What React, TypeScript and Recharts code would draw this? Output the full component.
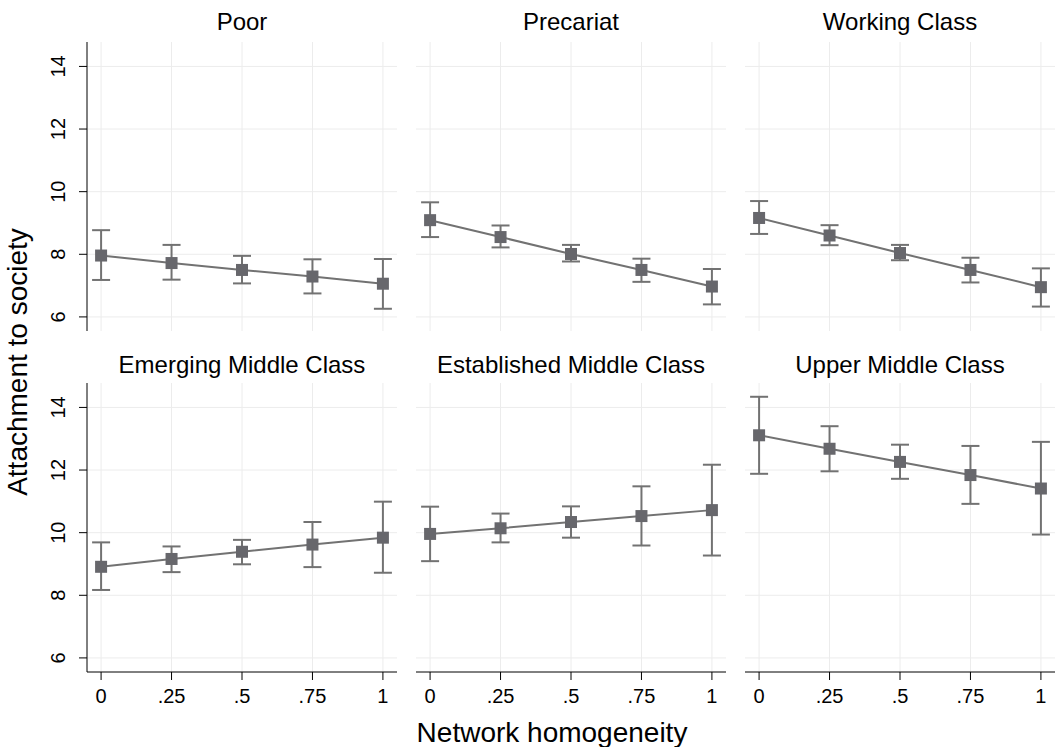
// App.tsx — 2x3 small-multiple panels: attachment to society by network homogeneity
import { ComposedChart, Line, XAxis, YAxis, ReferenceLine, ErrorBar } from "recharts";

const X_VALUES = [0, 0.25, 0.5, 0.75, 1];
const X_TICK_LABELS = ["0", ".25", ".5", ".75", "1"];
const Y_TICKS = [6, 8, 10, 12, 14];

const PANEL_TITLES = [
  "Poor",
  "Precariat",
  "Working Class",
  "Emerging Middle Class",
  "Established Middle Class",
  "Upper Middle Class",
];

// point estimates and 95% CI bounds
const poorMean = [7.96, 7.72, 7.5, 7.29, 7.06];
const poorLow = [7.18, 7.19, 7.07, 6.75, 6.26];
const poorHigh = [8.77, 8.3, 7.95, 7.84, 7.85];

const precariatMean = [9.09, 8.55, 8.01, 7.5, 6.97];
const precariatLow = [8.55, 8.22, 7.77, 7.12, 6.4];
const precariatHigh = [9.66, 8.92, 8.3, 7.86, 7.53];

const workingMean = [9.16, 8.6, 8.04, 7.5, 6.95];
const workingLow = [8.65, 8.29, 7.81, 7.1, 6.33];
const workingHigh = [9.7, 8.93, 8.3, 7.89, 7.55];

const emergingMean = [8.91, 9.16, 9.39, 9.62, 9.84];
const emergingLow = [8.17, 8.74, 8.99, 8.9, 8.72];
const emergingHigh = [9.69, 9.56, 9.77, 10.34, 10.99];

const establishedMean = [9.96, 10.14, 10.34, 10.53, 10.72];
const establishedLow = [9.09, 9.69, 9.84, 9.59, 9.27];
const establishedHigh = [10.83, 10.61, 10.84, 11.48, 12.17];

const upperMean = [13.11, 12.68, 12.26, 11.84, 11.41];
const upperLow = [11.88, 11.96, 11.72, 10.92, 9.94];
const upperHigh = [14.34, 13.4, 12.81, 12.77, 12.9];

const SERIES = [
  [poorMean, poorLow, poorHigh],
  [precariatMean, precariatLow, precariatHigh],
  [workingMean, workingLow, workingHigh],
  [emergingMean, emergingLow, emergingHigh],
  [establishedMean, establishedLow, establishedHigh],
  [upperMean, upperLow, upperHigh],
];

const FONT = "'Liberation Sans', Arial, sans-serif";
const MARK = "#67676c";
const LINE = "#727272";
const GRID = "#ececec";

// layout of the plot areas
const PLOT_W = 310;
const PLOT_H = 289;
const COL_LEFT = [87, 416, 745];
const ROW_TOP = [42, 383];
const Y_AXIS_W = 47;
const X_AXIS_H = 40;

// rotated y tick label (reads bottom → top)
function YTick({ x, y, payload }: { x?: number; y?: number; payload?: { value: number } }) {
  return (
    <text
      x={x}
      y={y}
      transform={`rotate(-90 ${x} ${y})`}
      textAnchor="middle"
      fontSize={20}
      fontFamily={FONT}
      fill="#000"
    >
      {payload?.value}
    </text>
  );
}

// square marker
function SquareDot(props: { cx?: number; cy?: number; index?: number }) {
  const { cx = 0, cy = 0, index } = props;
  return <rect key={index} x={cx - 6} y={cy - 6} width={12} height={12} fill={MARK} />;
}

function Panel({ idx }: { idx: number }) {
  const row = Math.floor(idx / 3);
  const col = idx % 3;
  const showY = col === 0;
  const showX = row === 1;
  const [mean, low, high] = SERIES[idx];
  const data = X_VALUES.map((x, i) => ({
    x,
    y: mean[i],
    err: [mean[i] - low[i], high[i] - mean[i]],
  }));

  const width = PLOT_W + (showY ? Y_AXIS_W : 0);
  const height = PLOT_H + (showX ? X_AXIS_H : 0);
  const left = COL_LEFT[col] - (showY ? Y_AXIS_W : 0);

  return (
    <div style={{ position: "absolute", left, top: ROW_TOP[row] }}>
      <ComposedChart width={width} height={height} data={data} margin={{ top: 0, right: 0, bottom: 0, left: 0 }}>
        <XAxis
          type="number"
          dataKey="x"
          domain={[-0.05, 1.05]}
          allowDataOverflow
          ticks={X_VALUES}
          tickFormatter={(v: number) => X_TICK_LABELS[X_VALUES.indexOf(v)]}
          hide={!showX}
          height={X_AXIS_H}
          axisLine={{ stroke: "#000", strokeWidth: 1 }}
          tickLine={{ stroke: "#000" }}
          tickSize={8}
          tickMargin={9}
          tick={{ fill: "#000", fontSize: 20, fontFamily: FONT }}
          interval={0}
        />
        <YAxis
          type="number"
          domain={[5.55, 14.78]}
          allowDataOverflow
          ticks={Y_TICKS}
          hide={!showY}
          width={Y_AXIS_W}
          axisLine={{ stroke: "#000", strokeWidth: 1 }}
          tickLine={{ stroke: "#000" }}
          tickSize={8}
          tickMargin={14}
          tick={<YTick />}
          interval={0}
        />
        {/* light grid only at the tick values */}
        {X_VALUES.map(v => (
          <ReferenceLine key={`vx${v}`} x={v} stroke={GRID} strokeWidth={1} />
        ))}
        {Y_TICKS.map(v => (
          <ReferenceLine key={`hy${v}`} y={v} stroke={GRID} strokeWidth={1} />
        ))}
        <Line
          type="linear"
          dataKey="y"
          stroke={LINE}
          strokeWidth={2}
          dot={<SquareDot />}
          activeDot={false}
          isAnimationActive={false}
        >
          <ErrorBar dataKey="err" direction="y" width={9} stroke={LINE} strokeWidth={2} />
        </Line>
      </ComposedChart>
    </div>
  );
}

export default function App() {
  return (
    <div style={{ position: "absolute", left: 0, top: 0, width: 1056, height: 747, background: "#fff", overflow: "hidden" }}>
      {PANEL_TITLES.map((_, i) => (
        <Panel key={i} idx={i} />
      ))}
      {/* titles and axis labels */}
      <svg width={1056} height={747} style={{ position: "absolute", left: 0, top: 0, pointerEvents: "none" }}>
        {PANEL_TITLES.map((t, i) => (
          <text
            key={t}
            x={COL_LEFT[i % 3] + PLOT_W / 2}
            y={i < 3 ? 30 : 373}
            textAnchor="middle"
            fontSize={24}
            fontFamily={FONT}
            fill="#000"
          >
            {t}
          </text>
        ))}
        <text
          x={27}
          y={362}
          transform="rotate(-90 27 362)"
          textAnchor="middle"
          fontSize={28}
          fontFamily={FONT}
          fill="#000"
        >
          Attachment to society
        </text>
        <text x={552} y={742} textAnchor="middle" fontSize={28} fontFamily={FONT} fill="#000">
          Network homogeneity
        </text>
      </svg>
    </div>
  );
}
